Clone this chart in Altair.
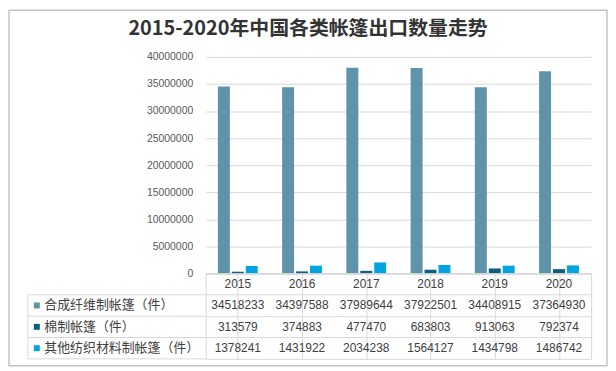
import altair as alt
import pandas as pd

title_text = "2015-2020年中国各类帐篷出口数量走势"
years = ["2015", "2016", "2017", "2018", "2019", "2020"]
series_names = ["合成纤维制帐篷（件）", "棉制帐篷（件）", "其他纺织材料制帐篷（件）"]
s_synthetic = [34518233, 34397588, 37989644, 37922501, 34408915, 37364930]
s_cotton = [313579, 374883, 477470, 683803, 913063, 792374]
s_other = [1378241, 1431922, 2034238, 1564127, 1434798, 1486742]
colors = ["#5F93A9", "#0B5F81", "#00A5DF"]
y_ticks = [0, 5000000, 10000000, 15000000, 20000000, 25000000, 30000000, 35000000, 40000000]

series_values = [s_synthetic, s_cotton, s_other]
rows = []
for name, vals in zip(series_names, series_values):
    for yr, v in zip(years, vals):
        rows.append({"year": yr, "series": name, "value": v})
df = pd.DataFrame(rows)

HDR = "hdr"
row_order = [HDR] + series_names
cells = [{"row": HDR, "year": yr, "label": yr} for yr in years]
cells += [{"row": r["series"], "year": r["year"], "label": str(r["value"])} for r in rows]
cells_df = pd.DataFrame(cells)
legend_df = pd.DataFrame({"row": series_names, "series": series_names})

color_scale = alt.Scale(domain=series_names, range=colors)
CN = "Noto Sans CJK SC"
NUM = "Liberation Sans"
GRID = "#d9d9d9"

W, H = 388, 218

bars = alt.Chart(df).mark_bar().encode(
    x=alt.X("year:N", sort=years,
            scale=alt.Scale(paddingInner=0.38, paddingOuter=0.19),
            axis=alt.Axis(title=None, labels=False, ticks=False, domain=True,
                          domainColor=GRID, grid=False)),
    xOffset=alt.XOffset("series:N", sort=series_names,
                        scale=alt.Scale(paddingInner=0.14, paddingOuter=0)),
    y=alt.Y("value:Q", scale=alt.Scale(domain=[0, 40000000], nice=False),
            axis=alt.Axis(title=None, values=y_ticks, format="d", domain=False,
                          ticks=False, labelPadding=13, gridColor=GRID,
                          labelFont=NUM, labelFontSize=10.5, labelColor="#595959")),
    color=alt.Color("series:N", scale=color_scale, legend=None),
)

frame = alt.Chart(alt.Data(values=[{}])).mark_rect(
    fill="transparent", stroke="#a6a6a6", strokeWidth=1
).encode(
    x=alt.value(-198), x2=alt.value(404), y=alt.value(-47), y2=alt.value(311)
)

title = alt.Chart(pd.DataFrame({"t": [title_text]})).mark_text(
    font=CN, fontSize=20, fontWeight="bold", color="#333333", baseline="middle", align="center"
).encode(text="t:N", x=alt.value(103), y=alt.value(-28))

top = alt.layer(frame, bars, title).properties(width=W, height=H)

TH = 86
yenc = alt.Y("row:N", sort=row_order, scale=alt.Scale(domain=row_order, paddingInner=0, paddingOuter=0),
             axis=alt.Axis(title=None, ticks=False, tickSize=0, domain=False, grid=True,
                           bandPosition=0, gridColor=GRID, labelAlign="left",
                           labelPadding=163, labelFont=CN, labelFontSize=13,
                           labelColor="#404040",
                           labelExpr="datum.value == 'hdr' ? '' : datum.value"))
xenc = alt.X("year:N", sort=years,
             axis=alt.Axis(title=None, labels=False, ticks=False, domain=False, grid=True,
                           bandPosition=0, gridColor=GRID))

table_text = alt.Chart(cells_df).mark_text(
    font=NUM, fontSize=12, color="#404040", baseline="middle"
).encode(x=xenc, y=yenc, text="label:N")

squares = alt.Chart(legend_df).mark_point(shape="square", filled=True, size=36, opacity=1).encode(
    x=alt.value(-170), y=alt.Y("row:N", sort=row_order),
    color=alt.Color("series:N", scale=color_scale, legend=None),
)

left_lines = alt.Chart(legend_df).mark_rule(color=GRID).encode(
    x=alt.value(-179), x2=alt.value(0), y=alt.Y("row:N", sort=row_order, bandPosition=0)
)
bottom_line = alt.Chart(alt.Data(values=[{}])).mark_rule(color=GRID).encode(
    x=alt.value(-179), x2=alt.value(0), y=alt.value(TH)
)
left_border = alt.Chart(alt.Data(values=[{}])).mark_rule(color=GRID).encode(
    x=alt.value(-179), y=alt.value(TH / 4), y2=alt.value(TH)
)

table = alt.layer(table_text, squares, left_lines, bottom_line, left_border).properties(
    width=W, height=TH, view=alt.ViewBackground(stroke=GRID)
)

chart = alt.vconcat(top, table, spacing=0, bounds="flush").properties(
    padding=0
).configure_view(stroke="transparent")

chart.save("out.html", embed_options={"renderer": "svg", "actions": False})
